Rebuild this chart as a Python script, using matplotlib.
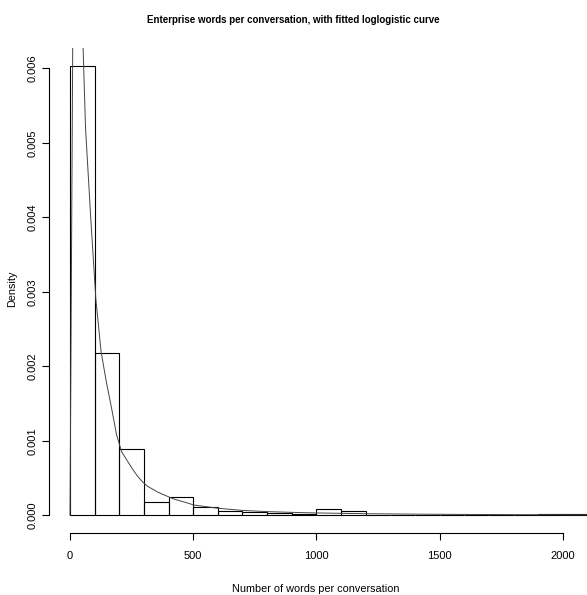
import matplotlib
matplotlib.use("Agg")
import matplotlib.pyplot as plt

# histogram: left bin edges (words) and density of each bin (width 100)
bin_left = [0, 100, 200, 300, 400, 500, 600, 700, 800, 900, 1000,
            1100, 1200, 1300, 1400, 1500, 1600, 1700, 1800, 1900, 2000]
density = [0.00603, 0.002176, 0.000897, 0.000185, 0.000252, 0.000118,
           0.000064, 0.000051, 0.00003, 0.000016, 0.000087, 0.00006,
           0.000004, 0.000003, 0.000002, 0.000002, 0.000001, 0.000001,
           0.000001, 0.000024, 0.000024]
bin_width = 100

# fitted loglogistic curve
curve_x = [0, 21, 42, 63, 84, 105, 126, 147, 168, 189, 210, 231, 252, 273,
           294, 315, 336, 357, 378, 399, 420, 441, 462, 483, 500, 600, 700,
           800, 900, 1000, 1100, 1200, 1300, 1400, 1500, 1600, 1700, 1800,
           1900, 2000, 2100]
curve_y = [0, 0.0120, 0.0075, 0.0052, 0.0040, 0.0029, 0.0022, 0.0018,
           0.00145, 0.00108, 0.00085, 0.00074, 0.00063, 0.00053, 0.00045,
           0.00039, 0.00035, 0.00031, 0.00028, 0.00025, 0.00022, 0.0002,
           0.00018, 0.00016, 0.00014, 0.000095, 0.000066, 0.00005, 0.00004,
           0.000032, 0.000027, 0.000022, 0.000019, 0.000016, 0.000014,
           0.000012, 0.000011, 0.0000095, 0.0000085, 0.0000077, 0.000007]

xticks = [0, 500, 1000, 1500, 2000]
yticks = [0, 0.001, 0.002, 0.003, 0.004, 0.005, 0.006]

plt.rcParams['font.family'] = ['Liberation Sans', 'DejaVu Sans']

W, H = 587, 595
fig = plt.figure(figsize=(W / 100, H / 100), dpi=100)
ax = fig.add_axes([49.3 / W, (H - 533.3) / H, (587 - 49.3) / W, (533.3 - 48.2) / H])

ax.bar(bin_left, density, width=bin_width, align='edge', fill=False,
       edgecolor='black', linewidth=0.8)
ax.plot(curve_x, curve_y, color='#444444', linewidth=0.7)

ymax = max(density)
ax.set_ylim(-0.04 * ymax, 1.04 * ymax)
ax.set_xlim(-84, 2098)

for s in ['top', 'right']:
    ax.spines[s].set_visible(False)
ax.spines['left'].set_bounds(0, 0.006)
ax.spines['bottom'].set_bounds(0, 2000)
ax.spines['left'].set_linewidth(0.8)
ax.spines['bottom'].set_linewidth(0.8)

ax.set_xticks(xticks)
ax.set_xticklabels([str(t) for t in xticks])
ax.set_yticks(yticks)
ax.set_yticklabels(['%.3f' % t for t in yticks], rotation=90, va='center')
ax.tick_params(direction='out', length=5, width=0.8, labelsize=8)
ax.tick_params(axis='x', pad=8)
ax.tick_params(axis='y', pad=3.5)

fig.text(293 / W, 1 - 20 / H, 'Enterprise words per conversation, with fitted loglogistic curve',
         ha='center', va='center', fontsize=7, fontweight='bold')
fig.text(315.5 / W, 1 - 589 / H, 'Number of words per conversation',
         ha='center', va='center', fontsize=7.8)
fig.text(12 / W, 1 - 289 / H, 'Density', rotation=90,
         ha='center', va='center', fontsize=7.8)

fig.savefig('out.png', dpi=100)
